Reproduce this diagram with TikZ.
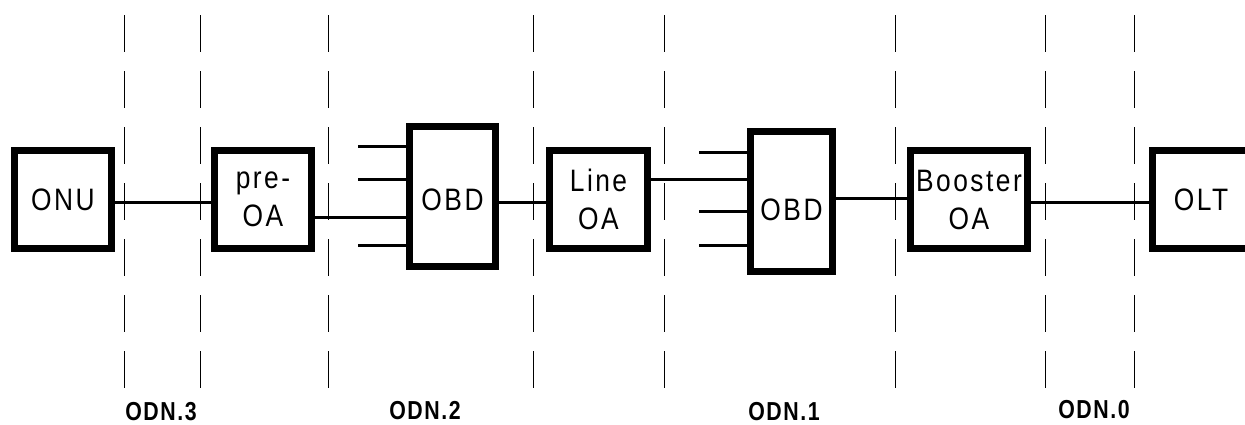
\documentclass[tikz,border=0pt]{standalone}
\usepackage{fontspec}
\setmainfont{Liberation Sans}
\newfontfamily\boxfamily[FakeStretch=0.85, LetterSpace=8]{Liberation Sans}
\newfontfamily\zonefamily[FakeStretch=0.82, LetterSpace=6]{Liberation Sans}
\usetikzlibrary{calc}
\newcommand\boxtext{\boxfamily\fontsize{31}{38}\selectfont}
\newcommand\zonetext{\zonefamily\bfseries\fontsize{26}{30}\selectfont}
\tikzset{
  unit/.style={draw, line width=7pt, minimum width=97pt, minimum height=98pt,
               inner sep=0pt, align=center, font=\boxtext},
  splitter/.style={unit, minimum width=#1, minimum height=140pt, text depth=0pt},
  link/.style={line width=3pt},
  cut/.style={line width=1pt, dash pattern=on 37pt off 19pt},
  zone/.style={font=\zonetext, inner sep=0pt},
}

\begin{document}
\begin{tikzpicture}[x=1pt, y=-1pt]
  \useasboundingbox (0,0) rectangle (1245,424);
  \clip (0,0) rectangle (1245,424);
  % section borders
  \foreach \x in {124,200,328,533,664,895,1045,1134}
    \draw[cut] (\x,15) -- (\x,388);
  % units
  \node[unit] (onu) at (63,199.5) {ONU};
  \node[unit] (preoa) at (263,199.5) {pre-\\OA};
  \node[splitter=86pt, text height=28pt] (obd1) at (452.5,196.5) {OBD};
  \node[unit, minimum width=98pt] (lineoa) at (598.5,199.5) {Line\\OA};
  \node[splitter=82pt, text height=38pt] (obd2) at (791.5,201) {OBD};
  \node[unit, minimum width=117pt] (booster) at (969,199.5) {Booster\\OA};
  \node[unit] (olt) at (1201,199.5) {OLT};
  % fibre links
  \draw[link] ([yshift=-2.5pt]onu.east) -- ([yshift=-2.5pt]preoa.west);
  \draw[link] ([yshift=-17.5pt]preoa.east) -- ([yshift=-20.5pt]obd1.west);
  \draw[link] ([yshift=-5.5pt]obd1.east) -- ([yshift=-2.5pt]lineoa.west);
  \draw[link] ([yshift=20.5pt]lineoa.east) -- ([yshift=22pt]obd2.west);
  \draw[link] ([yshift=3pt]obd2.east) -- ([yshift=1.5pt]booster.west);
  \draw[link] ([yshift=-2.5pt]booster.east) -- ([yshift=-2.5pt]olt.west);
  % splitter ports
  \foreach \dy in {50.5,17.5,-48.5}
    \draw[link] ([yshift=\dy pt]obd1.west) -- ++(-48,0);
  \foreach \dy in {49,-10,-44}
    \draw[link] ([yshift=\dy pt]obd2.west) -- ++(-48,0);
  % sections
  \node[zone] (odn3) at (161,412) {ODN.3};
  \node[zone] (odn2) at (425,411) {ODN.2};
  \node[zone] (odn1) at (784,412) {ODN.1};
  \node[zone] (odn0) at (1094,410) {ODN.0};
\end{tikzpicture}
\end{document}
